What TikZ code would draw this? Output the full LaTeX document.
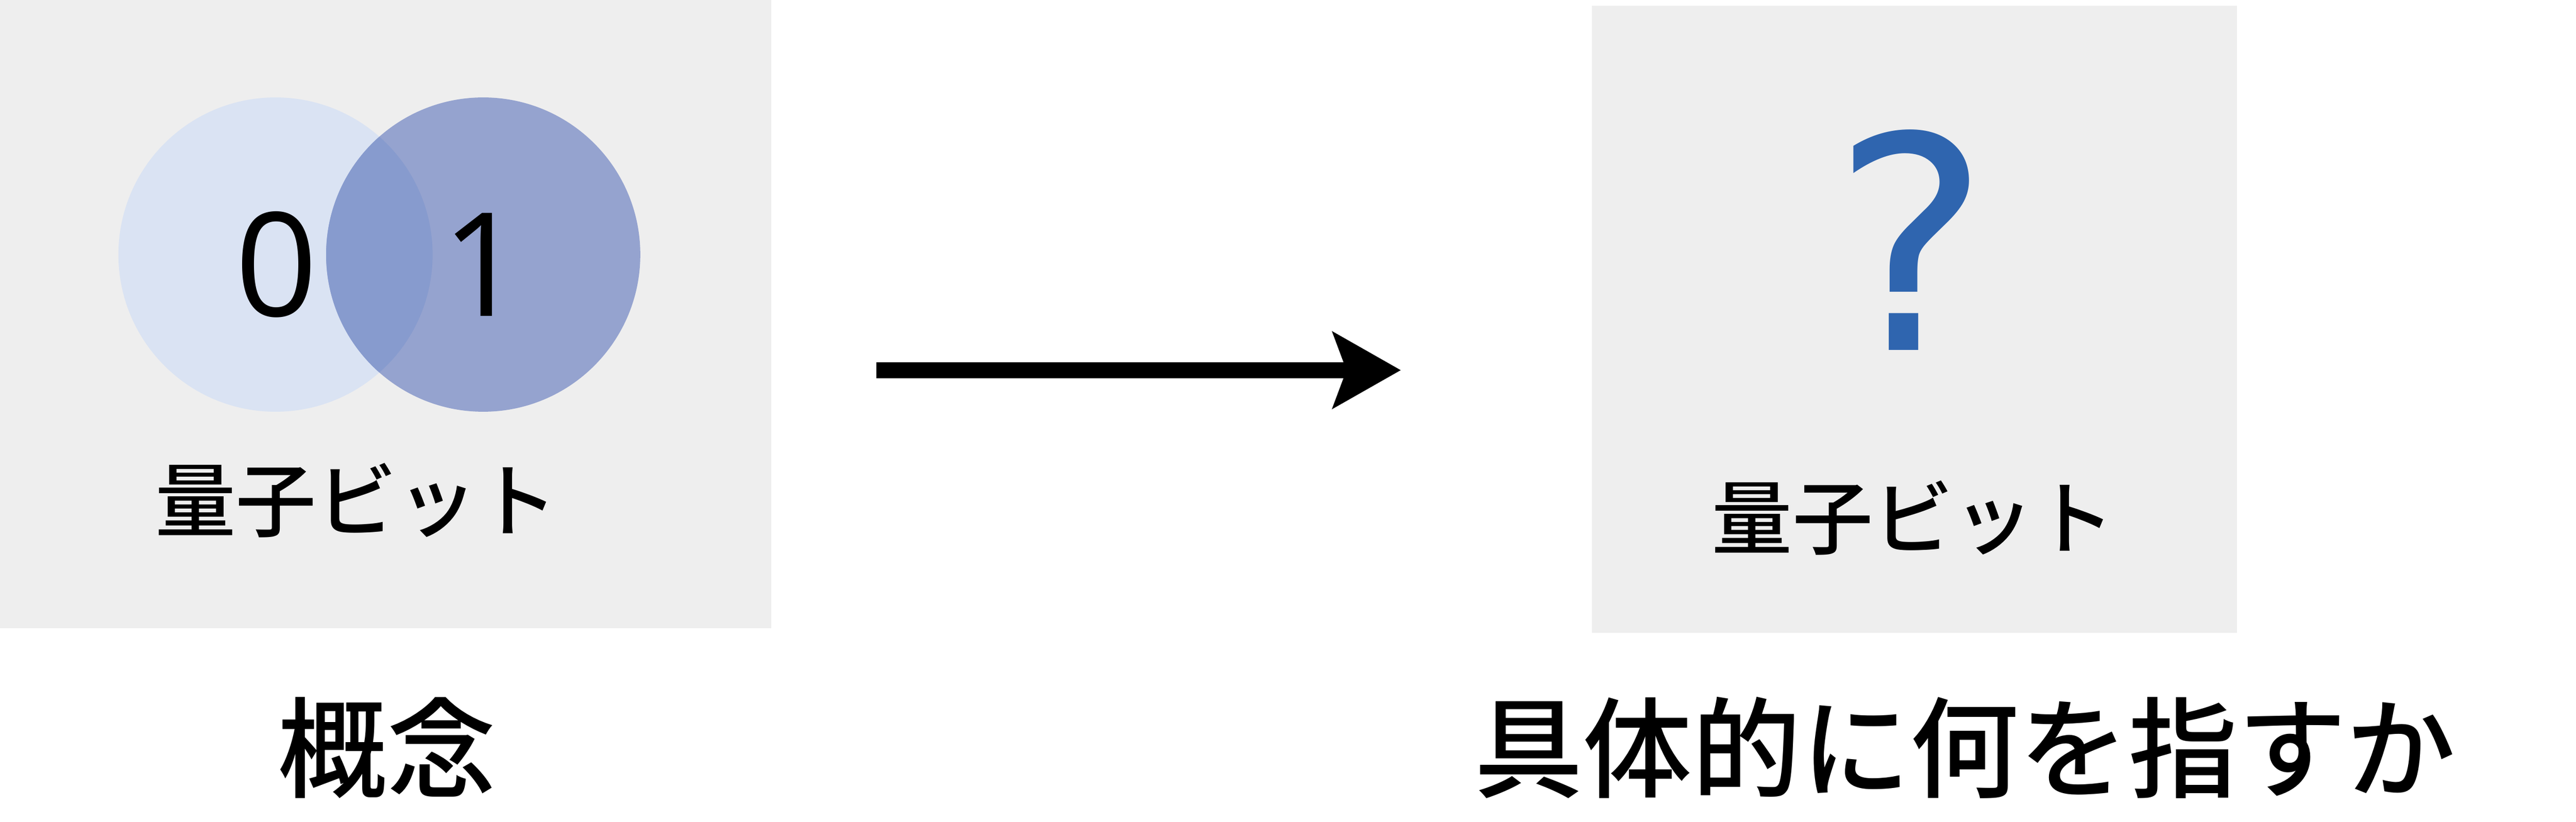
\documentclass[tikz,border=0pt]{standalone}
\usepackage{fontspec}
\setmainfont{Noto Sans CJK JP Medium}
\newfontfamily\sochu{Open Sans}
\newfontfamily\dauchu{DejaVu Sans}
\usepackage{tikz}
\usetikzlibrary{arrows.meta}
\definecolor{nenxam}{HTML}{EEEEEE}
\definecolor{trangthaikhong}{HTML}{DAE3F3}
\definecolor{trangthaimot}{HTML}{95A3CF}
\definecolor{chongchap}{HTML}{879BCE}
\definecolor{cauhoi}{HTML}{2F65AF}
\tikzset{nhan/.style={anchor=base,inner sep=0pt}}

\begin{document}
\begin{tikzpicture}
			\useasboundingbox (0,0) rectangle (53.95,-17.20);
			\fill[nenxam] (0,0) rectangle (16.15,-13.15);
			\fill[nenxam] (33.34,-0.12) rectangle (46.85,-13.25);
			\fill[trangthaikhong] (5.77,-5.33) circle (3.29);
			\fill[trangthaimot] (10.12,-5.33) circle (3.29);
			\begin{scope}
				\clip (5.77,-5.33) circle (3.29);
				\fill[chongchap] (10.12,-5.33) circle (3.29);
			\end{scope}
			\node[nhan,font=\sochu\fontsize{86}{100}\selectfont] (khong) at (5.79,-6.62) {0};
			\node[nhan,font=\sochu\fontsize{86}{100}\selectfont] (mot) at (10.12,-6.62) {1};
			\node[nhan,font=\fontsize{48}{58}\selectfont] (tenkhainiem) at (7.47,-11.11) {量子ビット};
			\node[nhan,font=\dauchu\fontsize{177}{200}\selectfont,text=cauhoi] (dauhoi) at (40.02,-7.33) {?};
			\node[nhan,font=\fontsize{48}{58}\selectfont] (tencuthe) at (40.07,-11.48) {量子ビット};
			\node[nhan,font=\fontsize{65}{78}\selectfont] (khainiem) at (8.11,-16.52) {概念};
			\node[nhan,font=\fontsize{65}{78}\selectfont] (cuthe) at (41.15,-16.52) {具体的に何を指すか};
			\coordinate (dau) at (18.35,-7.75);
			\coordinate (cuoi) at (29.34,-7.75);
			\draw[line width=0.33cm,-{Stealth[length=1.42cm,width=1.58cm,inset=0.28cm]}] (dau) -- (cuoi);
		\end{tikzpicture}
\end{document}
